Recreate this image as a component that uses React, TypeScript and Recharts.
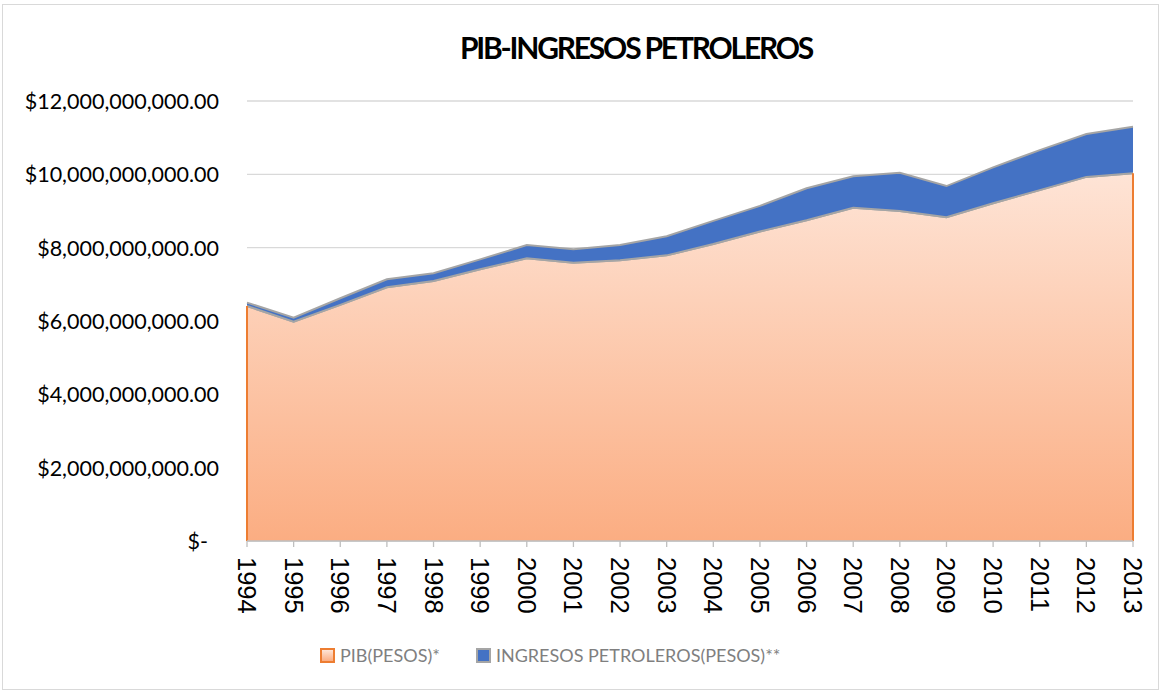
import React from "react";
import {
  ComposedChart,
  Area,
  Line,
  XAxis,
  YAxis,
  CartesianGrid,
  ReferenceLine,
} from "recharts";

const years = [
  "1994", "1995", "1996", "1997", "1998", "1999", "2000", "2001", "2002", "2003",
  "2004", "2005", "2006", "2007", "2008", "2009", "2010", "2011", "2012", "2013",
];

// PIB (pesos)
const pib = [
  6.41e9, 5.98e9, 6.44e9, 6.92e9, 7.09e9, 7.41e9, 7.71e9, 7.59e9, 7.66e9, 7.79e9,
  8.1e9, 8.44e9, 8.75e9, 9.09e9, 9.0e9, 8.83e9, 9.21e9, 9.57e9, 9.93e9, 10.03e9,
];

// ingresos petroleros (pesos)
const ingresos = [
  0.09e9, 0.11e9, 0.18e9, 0.22e9, 0.21e9, 0.27e9, 0.36e9, 0.37e9, 0.41e9, 0.52e9,
  0.63e9, 0.7e9, 0.87e9, 0.86e9, 1.04e9, 0.85e9, 0.98e9, 1.09e9, 1.17e9, 1.27e9,
];

const yTicks = [0, 2e9, 4e9, 6e9, 8e9, 10e9, 12e9];

const data = years.map((year, i) => ({
  year,
  pib: pib[i],
  ingresos: ingresos[i],
}));

const fmtMoney = (v: number) =>
  v === 0
    ? "$-"
    : "$" +
      v.toLocaleString("en-US", {
        minimumFractionDigits: 2,
        maximumFractionDigits: 2,
      });

const YTick = (props: any) => {
  const { x, y, payload } = props;
  const zero = payload.value === 0;
  return (
    <text
      x={zero ? x - 11 : x}
      y={y}
      textAnchor="end"
      dominantBaseline="central"
      fontFamily="Lato, sans-serif"
      fontSize={21.5}
      fill="#000"
    >
      {fmtMoney(payload.value)}
    </text>
  );
};

const XTick = (props: any) => {
  const { x, y, payload } = props;
  return (
    <text
      x={x}
      y={y}
      transform={`rotate(90, ${x}, ${y})`}
      textAnchor="start"
      dominantBaseline="central"
      fontFamily="'Liberation Sans', Arial, sans-serif"
      fontSize={25.5}
      fill="#000"
    >
      {payload.value}
    </text>
  );
};

export default function App() {
  const last = years.length - 1;
  return (
    <div style={{ position: "relative", width: 1161, height: 694, background: "#fff" }}>
      <style>{`body{margin:0}`}</style>
      <div
        style={{
          position: "absolute",
          left: 2,
          top: 4,
          width: 1155,
          height: 684,
          border: "1px solid #d9d9d9",
          pointerEvents: "none",
        }}
      />
      <div
        style={{
          position: "absolute",
          top: 29,
          left: 636,
          transform: "translateX(-50%)",
          fontFamily: "Lato, sans-serif",
          fontWeight: 700,
          fontSize: 30,
          letterSpacing: -2.2,
          whiteSpace: "nowrap",
          color: "#000",
        }}
      >
        PIB-INGRESOS PETROLEROS
      </div>

      <ComposedChart
        width={1161}
        height={694}
        data={data}
        margin={{ top: 101, right: 28, left: 0, bottom: 0 }}
      >
        <defs>
          <linearGradient id="pibFill" x1="0" y1="0" x2="0" y2="1">
            <stop offset="0%" stopColor="#fee4d6" />
            <stop offset="100%" stopColor="#fbad82" />
          </linearGradient>
        </defs>
        <CartesianGrid vertical={false} stroke="#d9d9d9" strokeWidth={1.3} />
        <XAxis
          dataKey="year"
          height={153}
          interval={0}
          tickSize={6}
          tickMargin={10}
          axisLine={{ stroke: "#bfbfbf", strokeWidth: 1.3 }}
          tickLine={{ stroke: "#bfbfbf", strokeWidth: 1.3 }}
          tick={<XTick />}
        />
        <YAxis
          width={247}
          domain={[0, 12e9]}
          ticks={yTicks}
          axisLine={false}
          tickLine={false}
          tickSize={0}
          tickMargin={28}
          tick={<YTick />}
        />
        <Area
          type="linear"
          dataKey="pib"
          stackId="1"
          stroke="#a5a5a5"
          strokeWidth={2}
          fill="url(#pibFill)"
          fillOpacity={1}
          isAnimationActive={false}
        />
        <Area
          type="linear"
          dataKey="ingresos"
          stackId="1"
          stroke="#a5a5a5"
          strokeWidth={2}
          fill="#4472c4"
          fillOpacity={1}
          isAnimationActive={false}
        />
        <Line
          type="linear"
          dataKey="pib"
          stroke="#a5a5a5"
          strokeWidth={2}
          dot={false}
          isAnimationActive={false}
        />
        <ReferenceLine
          segment={[
            { x: years[0], y: 0 },
            { x: years[0], y: pib[0] },
          ]}
          stroke="#ed7d31"
          strokeWidth={2}
        />
        <ReferenceLine
          segment={[
            { x: years[last], y: 0 },
            { x: years[last], y: pib[last] },
          ]}
          stroke="#ed7d31"
          strokeWidth={2}
        />
      </ComposedChart>

      <div
        style={{
          position: "absolute",
          top: 644,
          left: 320,
          display: "flex",
          gap: 36,
          fontFamily: "Lato, sans-serif",
          fontSize: 18,
          color: "#7f7f7f",
        }}
      >
        <div style={{ display: "flex", alignItems: "center", gap: 5 }}>
          <span
            style={{
              width: 11,
              height: 11,
              border: "2px solid #ed7d31",
              background: "linear-gradient(#fee4d6, #fbad82)",
            }}
          />
          <span>PIB(PESOS)*</span>
        </div>
        <div style={{ display: "flex", alignItems: "center", gap: 5 }}>
          <span
            style={{
              width: 11,
              height: 11,
              border: "2px solid #a5a5a5",
              background: "#4472c4",
            }}
          />
          <span>INGRESOS PETROLEROS(PESOS)**</span>
        </div>
      </div>
    </div>
  );
}
